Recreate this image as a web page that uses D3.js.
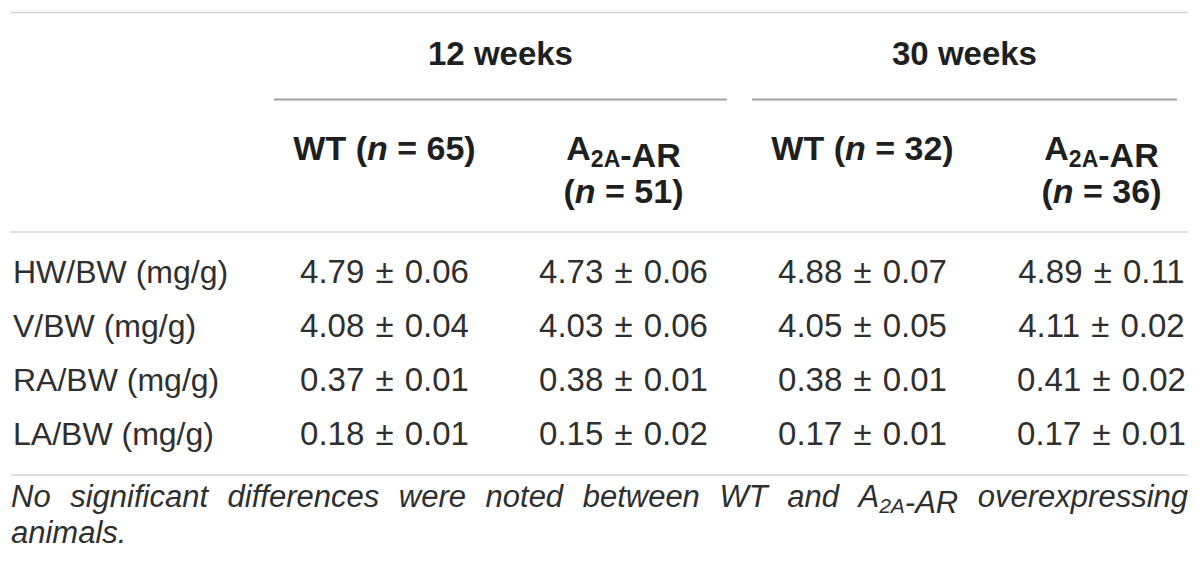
<!DOCTYPE html>
<html>
<head>
<meta charset="utf-8">
<script src="https://cdn.jsdelivr.net/npm/d3@7"></script>
<style>
  body { margin: 0; background: #fff; }
  svg { display: block; }
</style>
</head>
<body>
<div id="table"></div>
<script>
// Table content
var groupLabels = ["12 weeks", "30 weeks"];
var colGroup = [0, 0, 1, 1];
var colGenotype = ["WT", "A2A-AR", "WT", "A2A-AR"];
var colN = [65, 51, 32, 36];
var rowLabels = ["HW/BW (mg/g)", "V/BW (mg/g)", "RA/BW (mg/g)", "LA/BW (mg/g)"];
var means = [
    [4.79, 4.73, 4.88, 4.89],
    [4.08, 4.03, 4.05, 4.11],
    [0.37, 0.38, 0.38, 0.41],
    [0.18, 0.15, 0.17, 0.17]
];
var sems = [
    [0.06, 0.06, 0.07, 0.11],
    [0.04, 0.06, 0.05, 0.02],
    [0.01, 0.01, 0.01, 0.02],
    [0.01, 0.02, 0.01, 0.01]
];
var footnoteLines = [
    "No significant differences were noted between WT and A2A-AR overexpressing",
    "animals."
];

// Layout
var svgWidth = 1200;
var svgHeight = 574;
var tableLeft = 11;
var tableRight = 1188;

var svg = d3.select("#table")
    .append("svg")
        .attr("width", svgWidth)
        .attr("height", svgHeight);

var xCol = d3.scaleBand()
    .domain(d3.range(colGenotype.length))
    .range([265, 1221]);

var yRow = d3.scaleLinear()
    .domain([0, rowLabels.length - 1])
    .range([283, 445]);

var fontFamily = "'Liberation Sans', Arial, Helvetica, sans-serif";
var headColor = "#1f1f1f";
var bodyColor = "#2f2f2f";

// helper: write a label where "A2A" gets a subscript
function writeLabel(sel, str, subSize, shift) {
    var parts = str.split("A2A");
    parts.forEach(function(p, i) {
        if (i > 0) {
            sel.append("tspan").text("A");
            sel.append("tspan")
                .attr("font-size", subSize)
                .attr("dy", shift)
                .text("2A");
            sel.append("tspan").attr("dy", -shift).text("");
        }
        if (p.length) sel.append("tspan").text(p);
    });
}

// horizontal rules
function hline(y, x1, x2, color, w) {
    svg.append("line")
        .attr("x1", x1).attr("x2", x2)
        .attr("y1", y).attr("y2", y)
        .attr("stroke", color)
        .attr("stroke-width", w);
}
hline(12.5, tableLeft, tableRight, "#d4d4d4", 1.5);
hline(232, tableLeft, tableRight, "#d4d4d4", 1.5);
hline(475, tableLeft, tableRight, "#d4d4d4", 1.5);

// group headers with their underline
groupLabels.forEach(function(g, gi) {
    var cols = d3.range(colGroup.length).filter(function(c) { return colGroup[c] === gi; });
    var x1 = xCol(cols[0]) + 9;
    var x2 = Math.min(xCol(cols[cols.length - 1]) + xCol.bandwidth(), tableRight + 5) - 16;
    hline(99.5, x1, x2, "#a3a3a3", 2);
    svg.append("text")
        .attr("x", (x1 + x2) / 2)
        .attr("y", 65)
        .attr("text-anchor", "middle")
        .attr("font-family", fontFamily)
        .attr("font-size", 33)
        .attr("font-weight", "bold")
        .attr("fill", headColor)
        .text(g);
});

// column headers
colGenotype.forEach(function(gt, c) {
    var cx = xCol(c) + xCol.bandwidth() / 2;
    var lines = gt === "WT" ? [gt + " (", null] : [gt, "("];
    var t1 = svg.append("text")
        .attr("x", cx)
        .attr("y", 160)
        .attr("text-anchor", "middle")
        .attr("font-family", fontFamily)
        .attr("font-size", 34)
        .attr("font-weight", "bold")
        .attr("fill", headColor);
    writeLabel(t1, lines[0], 23, 7);
    var t = t1;
    if (lines[1]) {
        t = svg.append("text")
            .attr("x", cx)
            .attr("y", 203)
            .attr("text-anchor", "middle")
            .attr("font-family", fontFamily)
            .attr("font-size", 34)
            .attr("font-weight", "bold")
            .attr("fill", headColor);
        t.append("tspan").text("(");
    }
    t.append("tspan").attr("font-style", "italic").text("n");
    t.append("tspan").text(" = " + colN[c] + ")");
});

// row labels
svg.selectAll("text.rowlabel")
    .data(rowLabels)
    .enter()
    .append("text")
        .attr("class", "rowlabel")
        .attr("x", 13)
        .attr("y", function(d, i) { return yRow(i); })
        .attr("font-family", fontFamily)
        .attr("font-size", 32)
        .attr("fill", bodyColor)
        .text(function(d) { return d; });

// cells
var cells = [];
means.forEach(function(row, r) {
    row.forEach(function(m, c) {
        cells.push({ r: r, c: c, mean: m, sem: sems[r][c] });
    });
});

svg.selectAll("text.cell")
    .data(cells)
    .enter()
    .append("text")
        .attr("class", "cell")
        .attr("x", function(d) { return xCol(d.c) + xCol.bandwidth() / 2; })
        .attr("y", function(d) { return yRow(d.r); })
        .attr("text-anchor", "middle")
        .attr("font-family", fontFamily)
        .attr("font-size", 33)
        .attr("word-spacing", 2)
        .attr("fill", bodyColor)
        .text(function(d) { return d.mean.toFixed(2) + " \u00B1 " + d.sem.toFixed(2); });

// footnote, first line justified
var footSize = 31;
var footY = [507, 543];

function measure(word) {
    var tmp = svg.append("text")
        .attr("font-family", fontFamily)
        .attr("font-size", footSize)
        .attr("font-style", "italic");
    writeLabel(tmp, word, 21, 6);
    var w = tmp.node().getComputedTextLength();
    tmp.remove();
    return w;
}

footnoteLines.forEach(function(line, li) {
    var words = line.split(" ");
    var widths = words.map(measure);
    var total = d3.sum(widths);
    var last = li === footnoteLines.length - 1;
    var gap = last ? measure("a a") - measure("aa") :
        (tableRight - tableLeft - total) / (words.length - 1);
    var x = tableLeft;
    words.forEach(function(w, wi) {
        var t = svg.append("text")
            .attr("x", x)
            .attr("y", footY[li])
            .attr("font-family", fontFamily)
            .attr("font-size", footSize)
            .attr("font-style", "italic")
            .attr("fill", bodyColor);
        writeLabel(t, w, 21, 6);
        x += widths[wi] + gap;
    });
});
</script>
</body>
</html>
